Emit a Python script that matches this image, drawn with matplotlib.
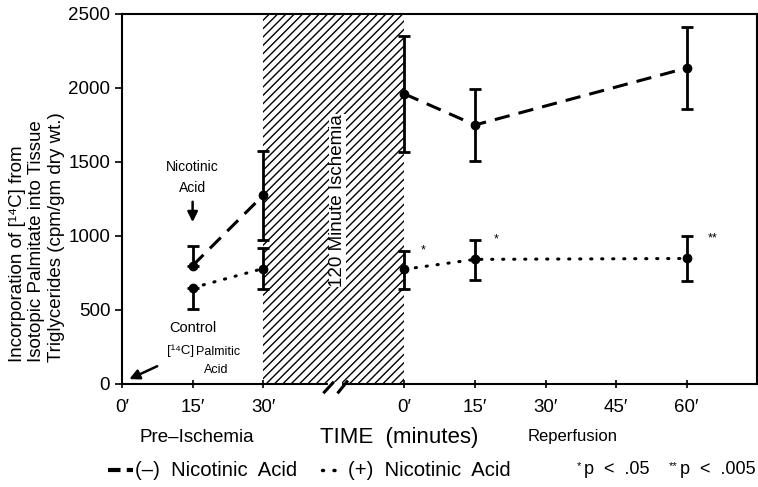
import matplotlib
matplotlib.use("Agg")
import matplotlib.pyplot as plt
from matplotlib.lines import Line2D
import matplotlib.transforms as mtransforms

plt.rcParams['font.family'] = ['Liberation Sans', 'DejaVu Sans']
plt.rcParams['hatch.linewidth'] = 1.0

# ---- data ----
tick_positions = [0, 15, 30, 60, 75, 90, 105, 120]
tick_labels = ["0\u2032", "15\u2032", "30\u2032", "0\u2032", "15\u2032", "30\u2032", "45\u2032", "60\u2032"]
time_x = [15, 30, 60, 75, 120]
minus_na = [800, 1275, 1960, 1750, 2135]
minus_na_err_lo = [0, 300, 390, 240, 275]
minus_na_err_hi = [135, 300, 390, 240, 275]
plus_na = [650, 780, 775, 842, 848]
plus_na_err_lo = [145, 140, 135, 140, 155]
plus_na_err_hi = [0, 140, 125, 130, 150]
ischemia_span = [30, 60]
sig_x = [63.5, 79, 124.5]
sig_y = [900, 975, 985]
sig_labels = ["*", "*", "**"]

fig = plt.figure(figsize=(7.58, 4.87), dpi=100)
ax = fig.add_axes([0.161, 0.2115, 0.838, 0.7598])

ax.axvspan(ischemia_span[0], ischemia_span[1], facecolor='white', edgecolor='black',
           hatch='////', linewidth=0, zorder=0)
ax.text(45.8, 1240, "120 Minute Ischemia", rotation=90, ha='center', va='center',
        fontsize=13.5, zorder=2,
        bbox=dict(facecolor='white', edgecolor='none', pad=0.3))

segs = [slice(0, 2), slice(2, 5)]
for sl in segs:
    ax.errorbar(time_x[sl], minus_na[sl], yerr=[minus_na_err_lo[sl], minus_na_err_hi[sl]],
                color='black', lw=2.2, dashes=(5, 3), marker='o', ms=6, elinewidth=2,
                capsize=4, capthick=2, zorder=3)
    ax.errorbar(time_x[sl], plus_na[sl], yerr=[plus_na_err_lo[sl], plus_na_err_hi[sl]],
                color='black', lw=2.2, dashes=(0.4, 3.2), dash_capstyle='round', marker='o',
                ms=6, elinewidth=2, capsize=4, capthick=2, zorder=3)

for sx, sy, sl in zip(sig_x, sig_y, sig_labels):
    ax.text(sx, sy, sl, fontsize=9, ha='left', va='center')

ax.annotate("", xy=(15, 1075), xytext=(15, 1250),
            arrowprops=dict(arrowstyle='-|>', color='black', lw=1.8, mutation_scale=15))
ax.text(15, 1395, "Nicotinic\nAcid", ha='center', va='center', fontsize=10, linespacing=1.6)
ax.text(15, 380, "Control", ha='center', va='center', fontsize=10.5)
ax.annotate("", xy=(1.0, 25), xytext=(8, 128),
            arrowprops=dict(arrowstyle='-|>', color='black', lw=1.8, mutation_scale=15))
ax.text(9.5, 225, "[\u00b9\u2074C]", ha='left', va='center', fontsize=9.5)
ax.text(15.8, 218, "Palmitic", ha='left', va='center', fontsize=9)
ax.text(17.5, 95, "Acid", ha='left', va='center', fontsize=9)

ax.set_xlim(0, 135)
ax.set_ylim(0, 2500)
ax.set_xticks(tick_positions)
ax.set_xticklabels(tick_labels, fontsize=13.5)
ax.set_yticks([0, 500, 1000, 1500, 2000, 2500])
ax.tick_params(axis='y', labelsize=13.5, direction='out', length=5, width=1.2)
ax.tick_params(axis='x', direction='inout', length=6, width=1.2, pad=8)
for s in ax.spines.values():
    s.set_linewidth(1.5)

# axis break marks
trans = mtransforms.blended_transform_factory(ax.transData, ax.transAxes)
ax.plot([44.3, 46.3], [0, 0], color='white', lw=3, transform=trans, clip_on=False, zorder=5)
ax.plot([43.0, 44.8], [-0.022, 0.003], color='black', lw=2.2, transform=trans, clip_on=False, zorder=6)
ax.plot([46.0, 47.8], [-0.022, 0.006], color='black', lw=2.2, transform=trans, clip_on=False, zorder=6)

fig.text(37 / 758, 1 - 362 / 487,
         "Incorporation of [\u00b9\u2074C] from\nIsotopic Palmitate into Tissue\nTriglycerides (cpm/gm dry wt.)",
         rotation=90, ha='center', va='bottom', multialignment='left',
         fontsize=13.5, linespacing=1.2)

fig.text(197 / 758, 1 - 437 / 487, "Pre\u2013Ischemia", ha='center', va='center', fontsize=13.5)
fig.text(399 / 758, 1 - 437 / 487, "TIME  (minutes)", ha='center', va='center', fontsize=16)
fig.text(573 / 758, 1 - 437 / 487, "Reperfusion", ha='center', va='center', fontsize=12)

# legend row
ly = 1 - 470 / 487
fig.add_artist(Line2D([108 / 758, 133 / 758], [ly, ly], color='black', lw=3, dashes=(3, 1.5)))
fig.text(135 / 758, ly, "(\u2013)  Nicotinic  Acid", ha='left', va='center', fontsize=14.6)
fig.add_artist(Line2D([322 / 758, 344 / 758], [ly, ly], color='black', lw=2.5,
                      dashes=(0.3, 3.0), dash_capstyle='round'))
fig.text(348 / 758, ly, "(+)  Nicotinic  Acid", ha='left', va='center', fontsize=14.6)
fig.text(577 / 758, ly + 0.008, "*", ha='left', va='center', fontsize=8)
fig.text(584 / 758, ly, "p  <  .05", ha='left', va='center', fontsize=13)
fig.text(669 / 758, ly + 0.008, "**", ha='left', va='center', fontsize=8)
fig.text(680 / 758, ly, "p  <  .005", ha='left', va='center', fontsize=13)

fig.savefig("out.png", dpi=100)
